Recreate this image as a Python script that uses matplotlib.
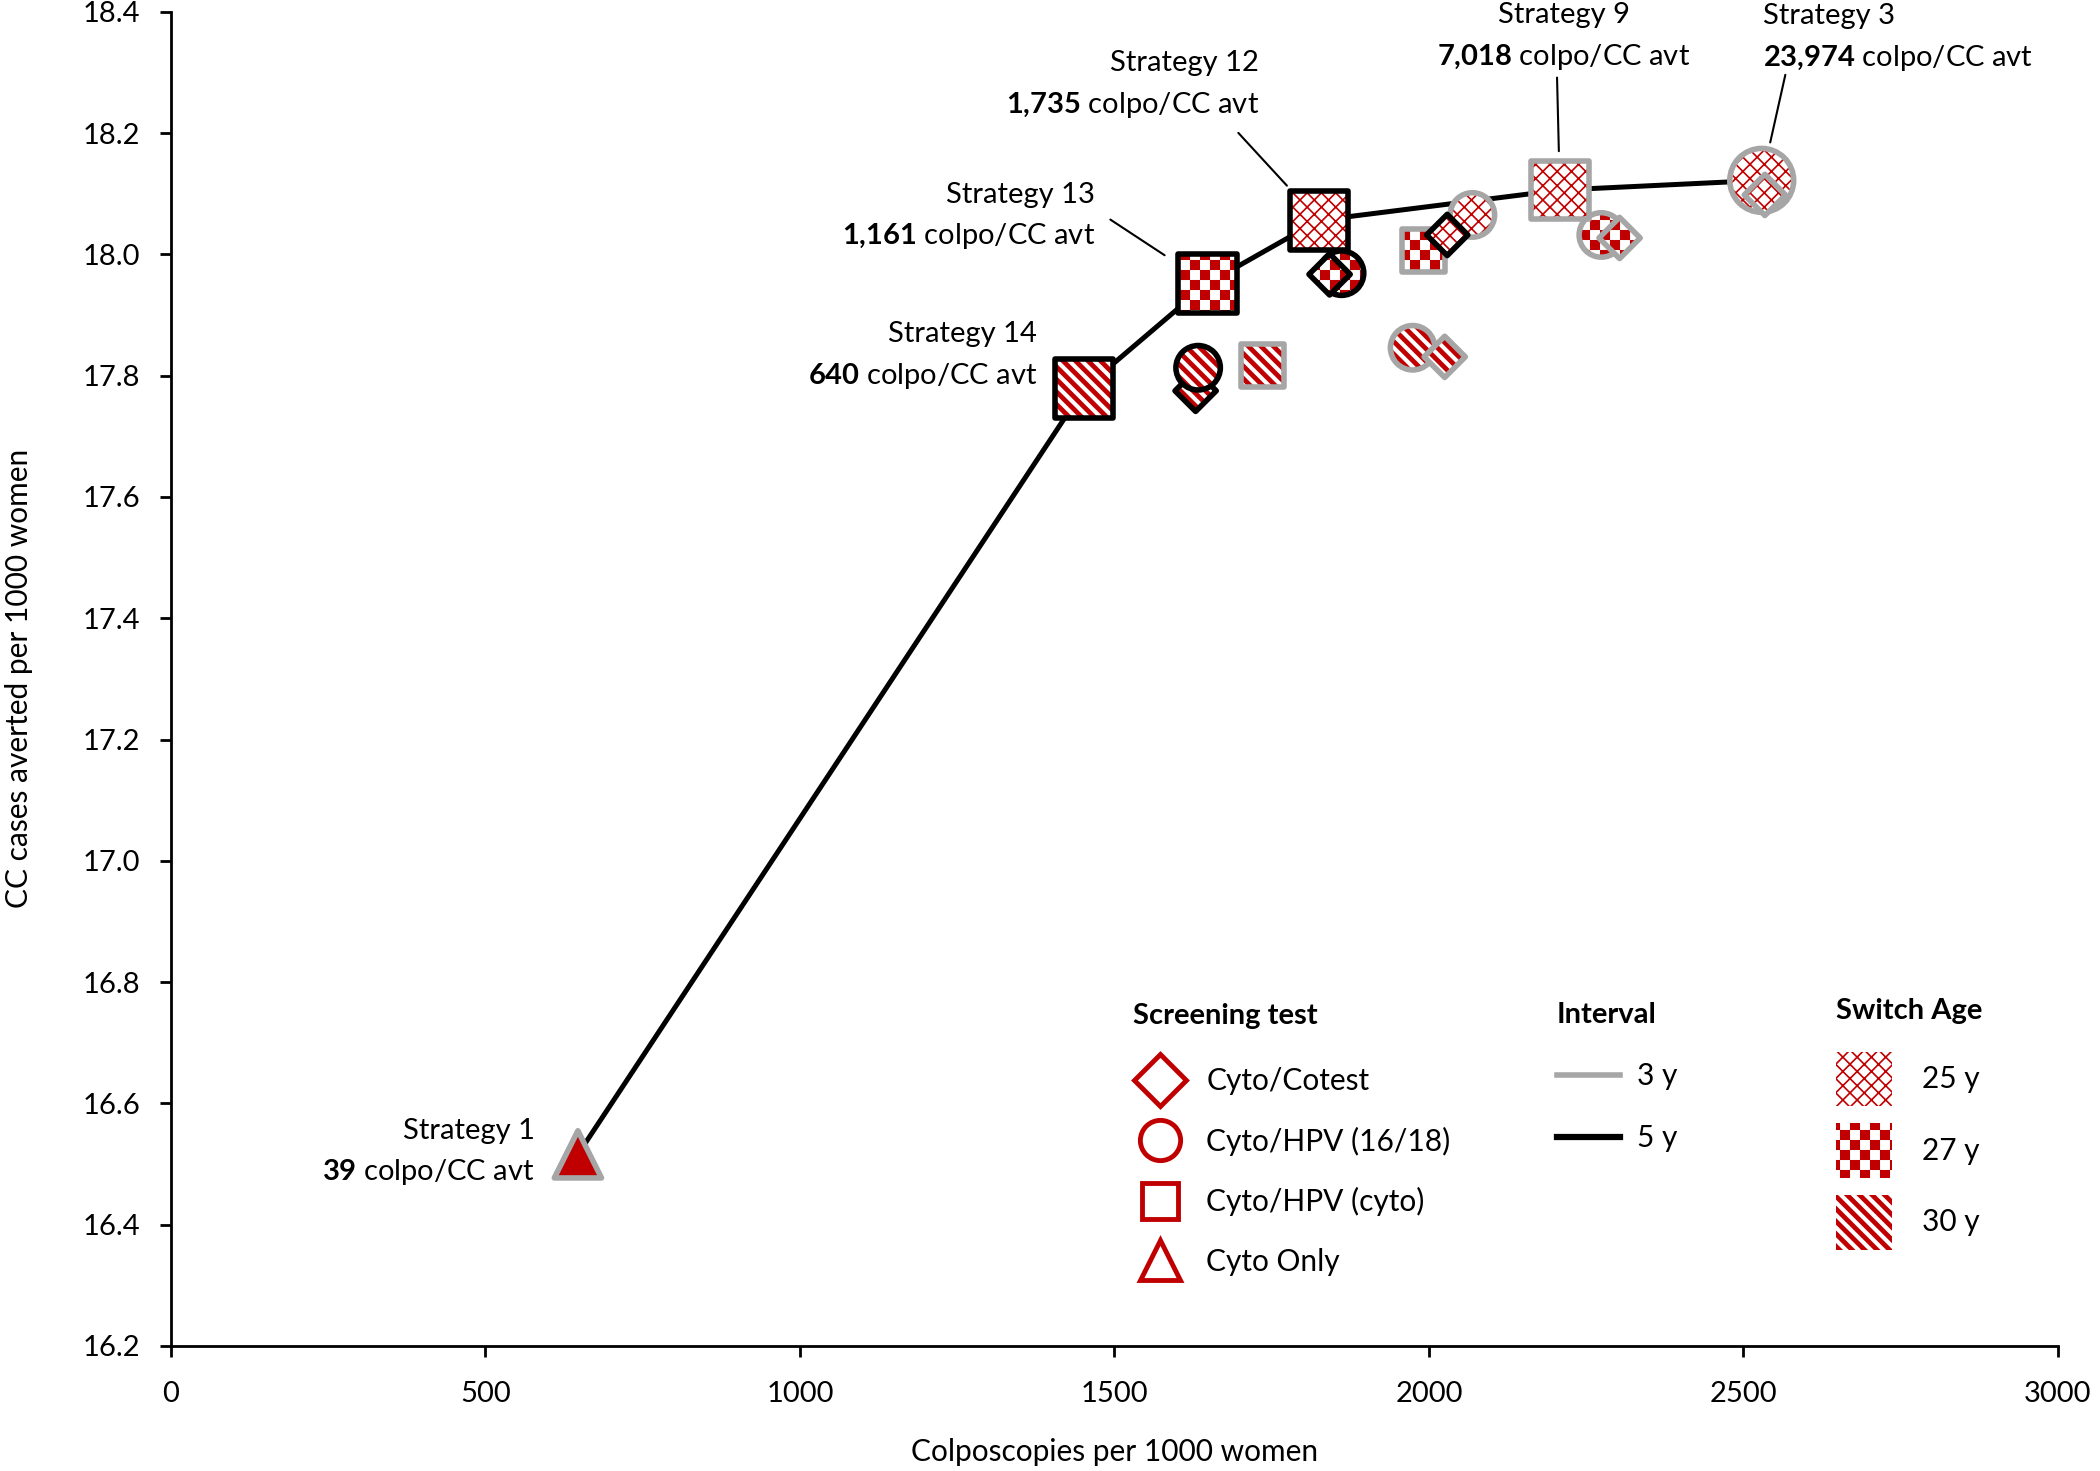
import numpy as np
import matplotlib
matplotlib.use('Agg')
import matplotlib.pyplot as plt
import matplotlib.hatch as mhatch
from matplotlib.path import Path
from matplotlib.lines import Line2D
from matplotlib.patches import Patch
from matplotlib.ticker import FormatStrFormatter

RED = '#c00000'
GRAY = '#a6a6a6'

# --- data ---
screen_test = ['Cyto/HPV (cyto)', 'Cyto/HPV (16/18)', 'Cyto/Cotest', 'Cyto/HPV (cyto)',
               'Cyto/HPV (16/18)', 'Cyto/Cotest', 'Cyto/HPV (16/18)', 'Cyto/Cotest',
               'Cyto/HPV (cyto)', 'Cyto/HPV (16/18)', 'Cyto/Cotest', 'Cyto/Cotest',
               'Cyto/HPV (16/18)', 'Cyto/HPV (16/18)', 'Cyto/Cotest', 'Cyto/HPV (cyto)',
               'Cyto/HPV (cyto)', 'Cyto/HPV (cyto)', 'Cyto Only']
interval = [3, 3, 3, 3, 3, 5, 3, 3, 3, 3, 3, 5, 5, 5, 5, 5, 5, 5, 3]
switch_age = [30, 30, 30, 27, 25, 25, 27, 27, 25, 25, 25, 30, 30, 27, 27, 30, 27, 25, None]
colpo = [1735, 1974, 2025, 1991, 2069, 2029, 2274, 2303, 2208, 2529, 2534,
         1629, 1633, 1861, 1842, 1452, 1648, 1825, 647]
averted = [17.817, 17.846, 17.831, 18.007, 18.065, 18.032, 18.032, 18.027, 18.106, 18.122,
           18.098, 17.775, 17.813, 17.969, 17.967, 17.779, 17.952, 18.056, 16.516]
strategy = [None] * 8 + [9, 3] + [None] * 5 + [14, 13, 12, 1]
colpo_per_avt = {1: '39', 14: '640', 13: '1{,}161', 12: '1{,}735', 9: '7{,}018', 3: '23{,}974'}

test_order = ['Cyto/Cotest', 'Cyto/HPV (16/18)', 'Cyto/HPV (cyto)', 'Cyto Only']
interval_labels = ['3 y', '5 y']
age_labels = ['25 y', '27 y', '30 y']

CODES4 = [Path.MOVETO, Path.LINETO, Path.LINETO, Path.LINETO, Path.CLOSEPOLY]


# custom fill patterns: 'x' = thin trellis, '*' = checkerboard, 'o' = thick diagonal stripes
class TrellisHatch(mhatch.HatchPatternBase):
    def __init__(self, hatch, density):
        self.n = 7 if 'x' in hatch else 0
        self.num_vertices = 2 * 2 * (3 * self.n + 3) if self.n else 0

    def set_vertices_and_codes(self, vertices, codes):
        segs = []
        for k in range(-self.n - 1, 2 * self.n + 2):
            c = k / self.n
            segs.append([[c + 0.1, -0.1], [c - 1.1, 1.1]])
            segs.append([[c - 0.1, -0.1], [c + 1.1, 1.1]])
        vertices[:] = np.concatenate(segs)
        codes[:] = np.tile([Path.MOVETO, Path.LINETO], len(segs))


class CheckerHatch(mhatch.HatchPatternBase):
    def __init__(self, hatch, density):
        self.n = 10 if '*' in hatch else 0
        self.num_vertices = self.n * self.n // 2 * 5

    def set_vertices_and_codes(self, vertices, codes):
        d = 1.0 / self.n
        a, b = 0.08 * d, 0.92 * d
        sq = np.array([[a, a], [b, a], [b, b], [a, b], [a, a]])
        cells = [(i, j) for i in range(self.n) for j in range(self.n) if (i + j) % 2 == 0]
        vertices[:] = np.concatenate([sq + [i * d, j * d] for i, j in cells])
        codes[:] = np.tile(CODES4, len(cells))


class StripeHatch(mhatch.HatchPatternBase):
    def __init__(self, hatch, density):
        self.n = 8 if 'o' in hatch else 0
        self.num_vertices = (2 * self.n + 4) * 5 if self.n else 0

    def set_vertices_and_codes(self, vertices, codes):
        w = 0.35 / self.n
        polys = []
        for k in range(-1, 2 * self.n + 3):
            c = k / self.n
            polys.append([[c + 0.1, -0.1], [c + w + 0.1, -0.1], [c + w - 1.1, 1.1],
                          [c - 1.1, 1.1], [c + 0.1, -0.1]])
        vertices[:] = np.concatenate(polys)
        codes[:] = np.tile(CODES4, len(polys))


mhatch._hatch_types = [TrellisHatch, CheckerHatch, StripeHatch]

plt.rcParams['font.family'] = 'Lato'
plt.rcParams['mathtext.fontset'] = 'custom'
plt.rcParams['mathtext.rm'] = 'Lato'
plt.rcParams['mathtext.bf'] = 'Lato:bold'
plt.rcParams['hatch.linewidth'] = 1.2
plt.rcParams['hatch.color'] = RED

markers = {'Cyto/Cotest': 'D', 'Cyto/HPV (16/18)': 'o', 'Cyto/HPV (cyto)': 's', 'Cyto Only': '^'}
patterns = {25: 'x', 27: '*', 30: 'o'}
size_small = {'D': 441, 'o': 1024, 's': 960, '^': 900}
size_big = {'D': 900, 'o': 2116, 's': 1764, '^': 1156}

fig = plt.figure(figsize=(21, 14.71), dpi=100)
ax = fig.add_axes([0.0814, 0.085, 0.8986, 0.907])

# efficiency frontier through the labelled strategies
front = sorted([(colpo[i], averted[i]) for i in range(len(colpo)) if strategy[i] is not None])
ax.plot([p[0] for p in front], [p[1] for p in front], color='black', lw=3.6, zorder=2)

for i in range(len(colpo)):
    m = markers[screen_test[i]]
    s = size_big[m] if strategy[i] is not None else size_small[m]
    edge = GRAY if interval[i] == 3 else 'black'
    face = RED if switch_age[i] is None else 'white'
    ax.scatter(colpo[i], averted[i], s=s, marker=m, facecolor=face, edgecolor=RED,
               linewidths=0, hatch=patterns.get(switch_age[i]), zorder=3 + i)
    ax.scatter(colpo[i], averted[i], s=s, marker=m, facecolor='none', edgecolor=edge,
               linewidths=4, zorder=3 + i)

# strategy labels: (offset of text block in pt, alignment, leader start, leader gap)
label_pos = {12: ((-43, 98), 'right', (-58, 63), 34),
             13: ((-81, 49), 'right', (-70, 46), 37),
             14: ((-34, 24), 'right', None, 0),
             1: ((-31, 2), 'right', None, 0),
             9: ((3, 111), 'center', (-2, 81), 28),
             3: ((1, 103), 'left', (17, 76), 28)}
for i in range(len(colpo)):
    st = strategy[i]
    if st is None:
        continue
    (dx, dy), ha, lead, gap = label_pos[st]
    xy = (colpo[i], averted[i])
    ax.annotate(f'Strategy {st}', xy=xy, xytext=(dx, dy + 15), textcoords='offset points',
                ha=ha, va='center', fontsize=21, zorder=30)
    ax.annotate(r'$\mathbf{' + colpo_per_avt[st] + '}$ colpo/CC avt', xy=xy,
                xytext=(dx, dy - 15), textcoords='offset points',
                ha=ha, va='center', fontsize=21, zorder=30)
    if lead is not None:
        ax.annotate('', xy=xy, xytext=lead, textcoords='offset points',
                    arrowprops=dict(arrowstyle='-', lw=1.5, color='black',
                                    shrinkA=0, shrinkB=gap), zorder=2)

ax.set_xlim(0, 3000)
ax.set_ylim(16.2, 18.4)
ax.set_xticks(np.arange(0, 3001, 500))
ax.set_yticks(np.arange(16.2, 18.41, 0.2))
ax.yaxis.set_major_formatter(FormatStrFormatter('%.1f'))
ax.spines['top'].set_visible(False)
ax.spines['right'].set_visible(False)
for sp in ['left', 'bottom']:
    ax.spines[sp].set_linewidth(2)
ax.tick_params(direction='out', length=8, width=2, labelsize=21, pad=14)
ax.tick_params(axis='x', pad=17)
ax.set_xlabel('Colposcopies per 1000 women', fontsize=21.5)
ax.set_ylabel('CC cases averted per 1000 women', fontsize=21.5)
ax.xaxis.set_label_coords(0.5, -0.069)
ax.yaxis.set_label_coords(-0.073, 0.5)

# legends (sep = gap between the bold title and the first entry)
leg_kw = dict(loc='upper left', frameon=False, fontsize=21.5, alignment='left',
              title_fontproperties={'weight': 'bold', 'size': 21},
              borderpad=0, borderaxespad=0)
ms = {'D': 26, 'o': 29, 's': 26, '^': 29}
h_test = [Line2D([], [], ls='none', marker=markers[t], ms=ms[markers[t]], mfc='white',
                 mec=RED, mew=3.5) for t in test_order]
leg1 = ax.legend(h_test, test_order, title='Screening test', bbox_to_anchor=(0.510, 0.257),
                 handlelength=1.8, handletextpad=0.64, labelspacing=1.05, **leg_kw)
leg1._legend_box.sep = 27.5
ax.add_artist(leg1)

h_int = [Line2D([], [], color=GRAY, lw=4), Line2D([], [], color='black', lw=4.5)]
leg2 = ax.legend(h_int, interval_labels, title='Interval', bbox_to_anchor=(0.7345, 0.258),
                 handlelength=2.1, handletextpad=0.57, labelspacing=1.15, **leg_kw)
ax.add_artist(leg2)

h_age = [Patch(facecolor='white', edgecolor=RED, lw=0, hatch=patterns[a]) for a in [25, 27, 30]]
leg3 = ax.legend(h_age, age_labels, title='Switch Age', bbox_to_anchor=(0.8823, 0.261),
                 handlelength=1.87, handleheight=2.45, handletextpad=1.0, labelspacing=0.56,
                 **leg_kw)
leg3._legend_box.sep = 20

fig.savefig('out.png', dpi=100)
